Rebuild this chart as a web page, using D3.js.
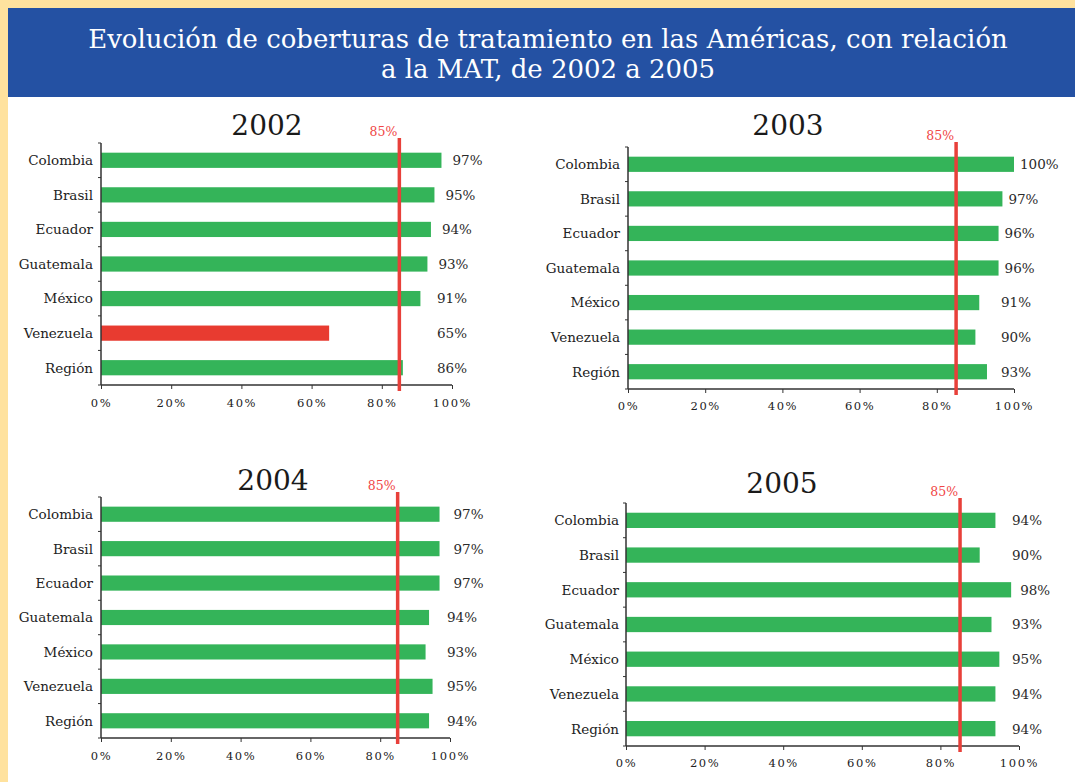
<!DOCTYPE html>
<html><head><meta charset="utf-8">
<script src="https://cdn.jsdelivr.net/npm/d3@7"></script>
<style>
html,body{margin:0;padding:0;background:#FFE29E;}
svg{display:block;}
</style></head>
<body>
<svg id="chart" width="1075" height="782"></svg>
<script>
const titleLines = ["Evolución de coberturas de tratamiento en las Américas, con relación", "a la MAT, de 2002 a 2005"];
const categories = ["Colombia","Brasil","Ecuador","Guatemala","México","Venezuela","Región"];
const years = ["2002","2003","2004","2005"];
const values2002 = [97,95,94,93,91,65,86];
const values2003 = [100,97,96,96,91,90,93];
const values2004 = [97,97,97,94,93,95,94];
const values2005 = [94,90,98,93,95,94,94];
const targetValue = 85;
const targetLabel = "85%";
const xTicks = [0,20,40,60,80,100];

const seriesByYear = [values2002, values2003, values2004, values2005];

const svg = d3.select("#chart");
svg.append("rect").attr("x",0).attr("y",0).attr("width",1075).attr("height",782).attr("fill","#FFE29E");
svg.append("rect").attr("x",8).attr("y",97).attr("width",1067).attr("height",685).attr("fill","#FFFFFF");
svg.append("rect").attr("x",8).attr("y",8).attr("width",1067).attr("height",89).attr("fill","#2451A3");

const tfont = "'DejaVu Serif', serif";
const titles = svg.selectAll("text.title").data(titleLines).join("text")
  .attr("class","title")
  .attr("x",548).attr("y",(d,i)=>48+i*30)
  .attr("text-anchor","middle")
  .attr("fill","#fff")
  .attr("font-family",tfont)
  .attr("font-size",24)
  .text(d=>d);
// fit first line width to ~920px
const w0 = titles.nodes()[0].getComputedTextLength();
if (w0 > 0) titles.attr("font-size", 24*920/w0);

const panels = [
  {x0:101, x1:452, top:143, bottom:385, titleX:267, titleY:135, labelR:93, tickY:407, valFloor:437, valPad:11},
  {x0:628, x1:1014, top:147, bottom:389, titleX:788, titleY:135, labelR:620, tickY:410, valFloor:1001, valPad:6},
  {x0:101, x1:450, top:497, bottom:738, titleX:273, titleY:490, labelR:93, tickY:760, valFloor:447, valPad:14},
  {x0:626, x1:1019, top:503, bottom:746, titleX:782, titleY:493, labelR:619, tickY:767, valFloor:1012, valPad:9}
];

panels.forEach((p, pi) => {
  const vals = seriesByYear[pi];
  const data = categories.map((c,i)=>({cat:c, v:vals[i]}));
  const x = d3.scaleLinear().domain([0,100]).range([p.x0,p.x1]);
  const y = d3.scaleBand().domain(categories).range([p.top,p.bottom]).paddingInner(0.56).paddingOuter(0.28);
  const g = svg.append("g");

  g.append("text").attr("x",p.titleX).attr("y",p.titleY)
    .attr("text-anchor","middle").attr("font-family",tfont)
    .attr("font-size",28).attr("fill","#1a1a1a").text(years[pi]);

  g.selectAll("rect.bar").data(data).join("rect")
    .attr("x",x(0)).attr("y",d=>y(d.cat))
    .attr("width",d=>x(d.v)-x(0)).attr("height",y.bandwidth())
    .attr("fill",d=>d.v<targetValue?"#E83B30":"#34B459");

  g.selectAll("text.val").data(data).join("text")
    .attr("x",d=>Math.max(x(d.v)+p.valPad, p.valFloor))
    .attr("y",d=>y(d.cat)+y.bandwidth()/2)
    .attr("dy","0.36em")
    .attr("font-family",tfont).attr("font-size",13.5).attr("fill","#2a2a2a")
    .text(d=>d.v+"%");

  const bandStep = (p.bottom-p.top)/categories.length;
  g.append("line").attr("x1",p.x0).attr("x2",p.x0).attr("y1",p.top).attr("y2",p.bottom)
    .attr("stroke","#333").attr("stroke-width",1.5);
  g.selectAll("line.ytick").data(d3.range(categories.length+1)).join("line")
    .attr("x1",p.x0-3).attr("x2",p.x0).attr("y1",i=>p.top+i*bandStep).attr("y2",i=>p.top+i*bandStep)
    .attr("stroke","#333").attr("stroke-width",1);
  g.selectAll("text.cat").data(categories).join("text")
    .attr("x",p.labelR).attr("y",d=>y(d)+y.bandwidth()/2).attr("dy","0.36em")
    .attr("text-anchor","end").attr("font-family",tfont).attr("font-size",13.5).attr("fill","#222")
    .text(d=>d);

  const xAxis = d3.axisBottom(x).tickValues(xTicks).tickSize(4).tickFormat(d=>d+"%");
  const ax = g.append("g").attr("transform",`translate(0,${p.bottom})`).call(xAxis);
  ax.select(".domain").attr("stroke","#333").attr("stroke-width",1.5).attr("d",`M${p.x0},0H${p.x1}`);
  ax.selectAll(".tick line").attr("stroke","#333");
  ax.selectAll(".tick text").attr("y",p.tickY-p.bottom).attr("dy",0)
    .attr("font-family",tfont).attr("font-size",11.5).attr("fill","#222")
    .attr("letter-spacing","1.6px");

  g.append("line").attr("x1",x(targetValue)).attr("x2",x(targetValue))
    .attr("y1",p.top-5).attr("y2",p.bottom+6)
    .attr("stroke","#E8403A").attr("stroke-width",3.5);
  g.append("text").attr("x",x(targetValue)-2).attr("y",p.top-7)
    .attr("text-anchor","end").attr("font-family",tfont).attr("font-size",12.5).attr("fill","#F04545")
    .text(targetLabel);
});
</script>
</body></html>
